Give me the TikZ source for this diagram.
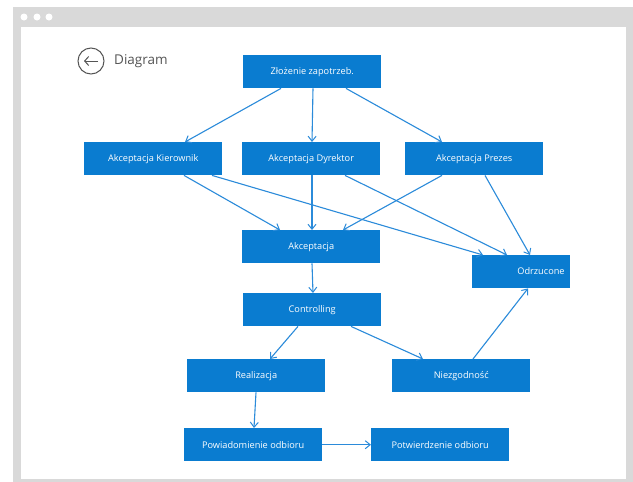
\documentclass[tikz,border=0pt]{standalone}
\usepackage{fontspec}
\setmainfont{Open Sans}
\usetikzlibrary{calc,arrows.meta}
\definecolor{boxblue}{HTML}{0A7CD0}
\definecolor{lineblue}{HTML}{2B8BDA}
\definecolor{framegray}{HTML}{D9D9D9}
\definecolor{titlegray}{HTML}{555555}
\tikzset{
  boxfont/.style={font=\fontsize{9.2}{11}\selectfont},
  box/.style={fill=boxblue, text=white, minimum width=138pt, minimum height=33pt, inner sep=0pt, boxfont, anchor=north west},
  conn/.style={draw=lineblue, line width=1.1pt, -{Straight Barb[length=5pt,width=8pt,line width=1pt]}},
}
\begin{document}
\begin{tikzpicture}[x=1pt,y=-1pt]
\useasboundingbox (0,0) rectangle (633,482);
% window frame
\fill[framegray] (13,7) rectangle (633,482);
\fill[white] (21,27) rectangle (626,479);
\foreach \cx in {24,37,49} \fill[white] (\cx,17) circle (3.5);
% title
\node[draw=titlegray, line width=1pt, circle, minimum size=26pt, inner sep=0pt] (back) at (91,61) {};
\draw[titlegray, line width=1pt, -{Straight Barb[length=4pt,width=9pt,line width=1pt]}] ($(back.center)+(7,0)$) -- ($(back.center)+(-7,0)$);
\node[anchor=west, text=titlegray, font=\fontsize{13.5}{16}\selectfont, inner sep=0pt] (title) at (114,61) {Diagram};
% boxes
\node[box] (zl) at (243,55) {Złożenie zapotrzeb.};
\node[box] (ki) at (84,142) {Akceptacja Kierownik};
\node[box] (dy) at (242,142) {Akceptacja Dyrektor};
\node[box] (pr) at (405,142) {Akceptacja Prezes};
\node[box] (ak) at (242,230) {Akceptacja};
\node[box, minimum width=98pt] (od) at (472,255) {};
\node[text=white, boxfont, inner sep=0pt] (odt) at (541,271.5) {Odrzucone};
\node[box] (co) at (243,293) {Controlling};
\node[box] (re) at (187,359) {Realizacja};
\node[box] (ni) at (392,359) {Niezgodność};
\node[box] (po) at (184,428) {Powiadomienie odbioru};
\node[box] (pt) at (371,428) {Potwierdzenie odbioru};
% connectors
\draw[conn] ($(zl.south west)+(38,0)$) -- ($(ki.north west)+(101,0)$);
\draw[conn] ($(zl.south west)+(70,0)$) -- ($(dy.north west)+(70,0)$);
\draw[conn] ($(zl.south west)+(103,0)$) -- ($(pr.north west)+(37,0)$);
\draw[conn] ($(ki.south west)+(100,0)$) -- ($(ak.north west)+(38,0)$);
\draw[conn] ($(ki.south west)+(128,0)$) -- ($(od.north west)+(11,0)$);
\draw[conn] ($(dy.south west)+(70,0)$) -- ($(ak.north west)+(70,0)$);
\draw[conn] ($(dy.south west)+(103,0)$) -- ($(od.north west)+(35,0)$);
\draw[conn] ($(pr.south west)+(37,0)$) -- ($(ak.north west)+(101,0)$);
\draw[conn] ($(pr.south west)+(80,0)$) -- ($(od.north west)+(58,0)$);
\draw[conn] ($(ak.south west)+(70,0)$) -- ($(co.north west)+(70,0)$);
\draw[conn] ($(co.south west)+(55,0)$) -- ($(re.north west)+(83,0)$);
\draw[conn] ($(co.south west)+(108,0)$) -- ($(ni.north west)+(31,0)$);
\draw[conn] ($(ni.north west)+(81,0)$) -- ($(od.south west)+(56,0)$);
\draw[conn] ($(re.south west)+(69,0)$) -- ($(po.north west)+(70,0)$);
\draw[conn] ($(po.west)+(138,0)$) -- (pt.west);
\end{tikzpicture}
\end{document}
